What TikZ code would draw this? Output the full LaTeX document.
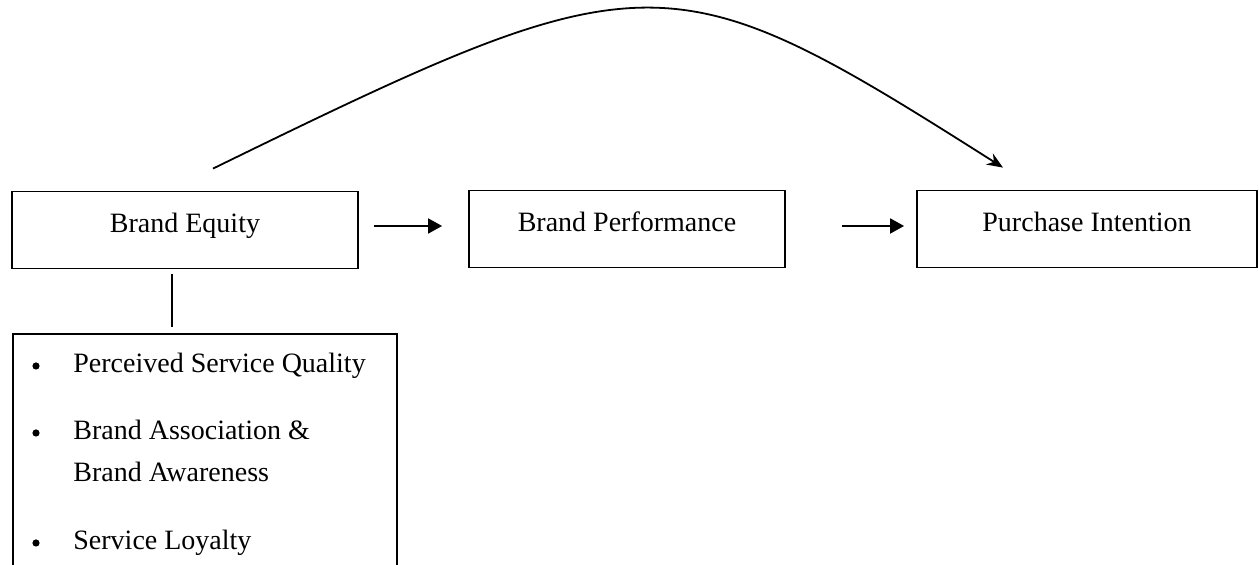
\documentclass[tikz,border=0pt]{standalone}
\usepackage{fontspec}
\setmainfont{Liberation Serif}
\usetikzlibrary{arrows.meta}

\begin{document}
\begin{tikzpicture}[x=0.5pt,y=-0.5pt,
    font=\fontsize{14}{16}\selectfont,
    block/.style={draw,line width=0.9pt,inner sep=0pt,text height=20.5pt,text depth=18pt},
    flow/.style={line width=0.9pt,-{Triangle[length=7pt,width=7.5pt]}},
    item/.style={anchor=base west,inner sep=0pt},
    dot/.style={fill,circle,inner sep=0pt,minimum size=3.6pt}]
          %\draw[very thin,lightgray] (0,0) grid[step=50] (1259,565);
          \path[use as bounding box,clip] (0,0) rectangle (1259,565);
          \node[block,minimum width=173pt] (equity) at (185,230) {Brand Equity};
          \node[block,minimum width=158pt] (perf) at (627,229) {Brand Performance};
          \node[block,minimum width=170pt] (intent) at (1087,229) {Purchase Intention};
          \node[draw,line width=0.9pt,inner sep=0pt,anchor=north west,
            minimum width=192pt,minimum height=140pt] (attr) at (12,333) {};
          \draw[flow,shorten <=7.5pt,shorten >=13pt] ([yshift=2pt]equity.east)
            -- ([yshift=2pt]equity.east -| perf.west);
          \draw[flow,shorten <=28pt,shorten >=6pt] ([yshift=1.5pt]perf.east)
            -- ([yshift=1.5pt]perf.east -| intent.west);
          \draw[line width=0.9pt,shorten <=2.5pt,shorten >=3pt] ([xshift=-6.5pt]equity.south)
            -- ([xshift=-6.5pt]equity.south |- attr.north);
          \draw[line width=0.9pt,-{Stealth[length=8pt,width=6.5pt]}]
            ([xshift=14pt,yshift=11pt]equity.north) .. controls (650,-45) and (668,-45)
            .. ([xshift=-42pt,yshift=11pt]intent.north);
          % list of dimensions
          \node[dot] (d1) at (36,366) {};
          \node[item] (quality) at (73,373) {Perceived Service Quality};
          \node[dot] (d2) at (36,433) {};
          \node[item] (assoc) at (73,440) {Brand Association \&};
          \node[item] (aware) at (73,482) {Brand Awareness};
          \node[dot] (d3) at (36,543) {};
          \node[item] (loyal) at (73,550) {Service Loyalty};
        \end{tikzpicture}
\end{document}
